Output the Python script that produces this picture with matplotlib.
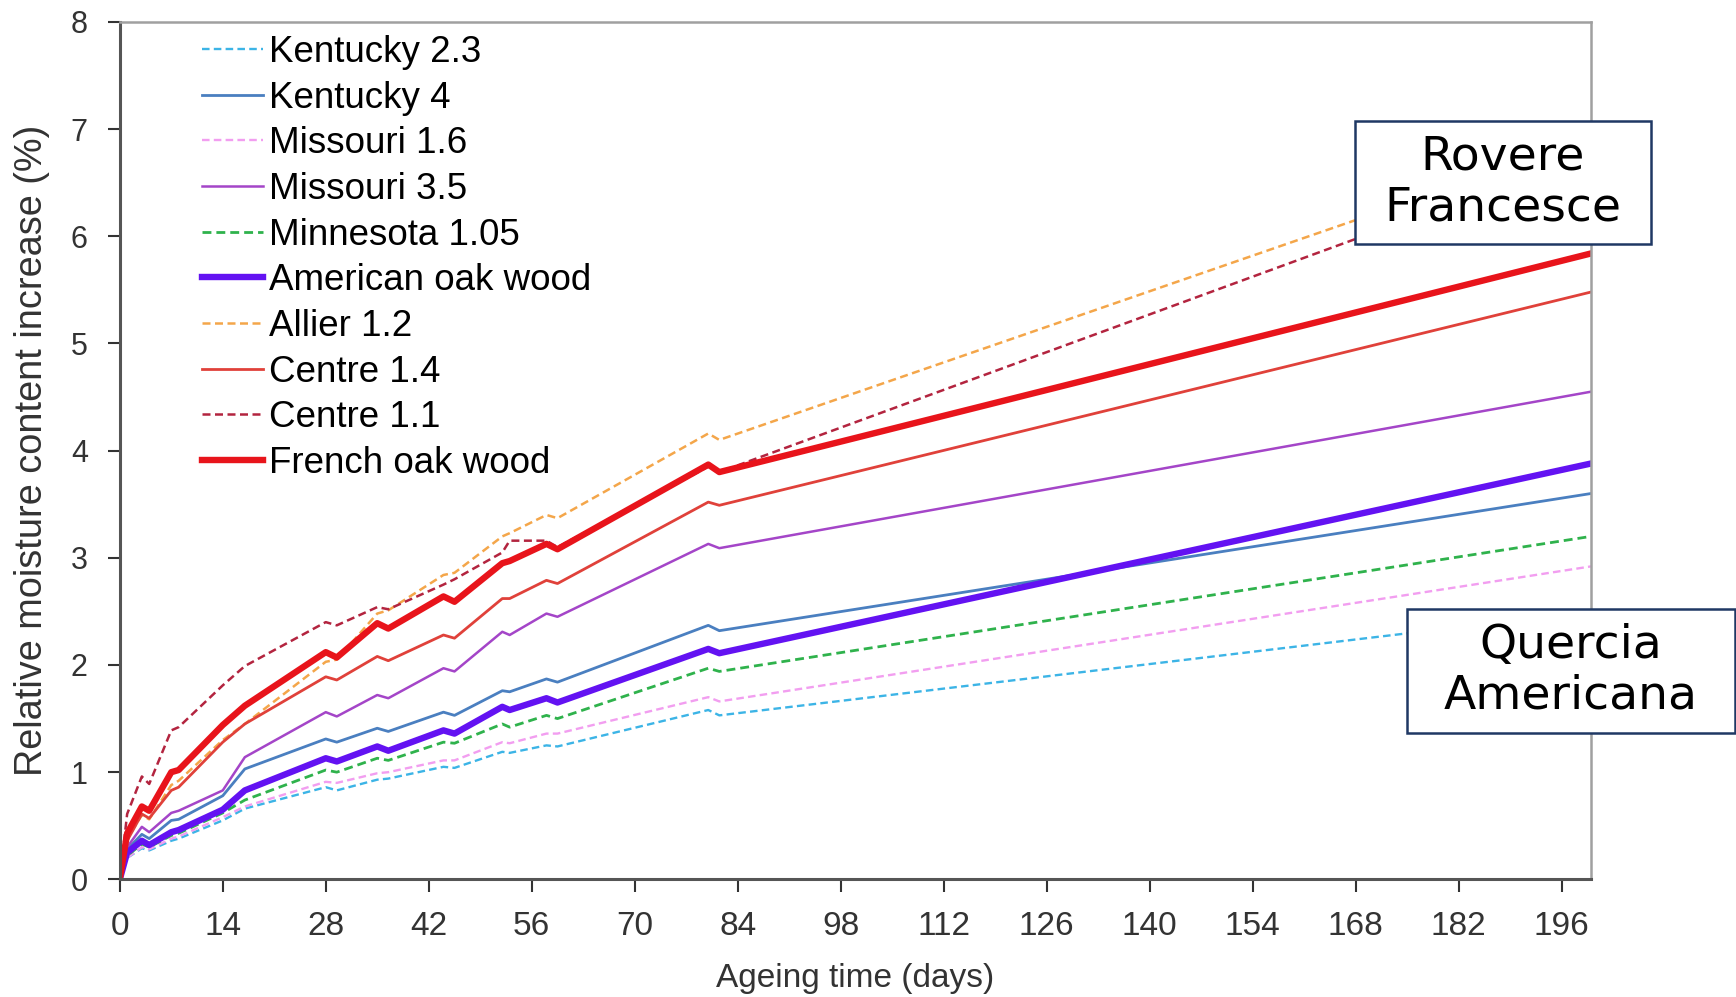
import matplotlib
matplotlib.use("Agg")
import matplotlib.pyplot as plt
from matplotlib.patches import Rectangle

plt.rcParams["font.family"] = ["Liberation Sans", "DejaVu Sans"]

# ageing time (days) at which the curves were sampled
days = [0, 1, 3, 4, 7, 8, 14, 17, 28, 29.5, 35, 36.5, 44, 45.5, 52, 53, 58, 59.5, 80, 81.5, 200]

kentucky_23 = [0, 0.20, 0.29, 0.27, 0.36, 0.38, 0.55, 0.66, 0.86, 0.83, 0.93, 0.94, 1.05, 1.04,
               1.19, 1.18, 1.25, 1.24, 1.58, 1.53, 2.50]
kentucky_4 = [0, 0.28, 0.42, 0.38, 0.55, 0.56, 0.78, 1.03, 1.31, 1.28, 1.41, 1.38, 1.56, 1.53,
              1.76, 1.75, 1.87, 1.84, 2.37, 2.32, 3.60]
missouri_16 = [0, 0.20, 0.30, 0.28, 0.38, 0.40, 0.58, 0.68, 0.91, 0.90, 0.99, 1.00, 1.11, 1.11,
               1.28, 1.27, 1.36, 1.36, 1.70, 1.66, 2.92]
missouri_35 = [0, 0.30, 0.49, 0.44, 0.62, 0.64, 0.83, 1.14, 1.56, 1.52, 1.72, 1.69, 1.97, 1.94,
               2.31, 2.28, 2.48, 2.45, 3.13, 3.09, 4.55]
minnesota_105 = [0, 0.22, 0.33, 0.30, 0.41, 0.43, 0.62, 0.74, 1.02, 1.00, 1.13, 1.11, 1.28, 1.27,
                 1.45, 1.42, 1.53, 1.50, 1.97, 1.94, 3.20]
american_oak = [0, 0.25, 0.36, 0.32, 0.44, 0.46, 0.65, 0.83, 1.13, 1.10, 1.24, 1.20, 1.39, 1.36,
                1.61, 1.58, 1.69, 1.65, 2.15, 2.11, 3.88]
allier_12 = [0, 0.38, 0.60, 0.56, 0.88, 0.92, 1.30, 1.45, 2.03, 2.05, 2.48, 2.51, 2.84, 2.86,
             3.20, 3.23, 3.40, 3.37, 4.16, 4.10, 6.91]
centre_14 = [0, 0.36, 0.61, 0.57, 0.83, 0.86, 1.28, 1.45, 1.89, 1.86, 2.08, 2.04, 2.28, 2.25,
             2.62, 2.62, 2.79, 2.76, 3.52, 3.49, 5.48]
centre_11 = [0, 0.61, 0.96, 0.89, 1.39, 1.42, 1.81, 1.99, 2.40, 2.37, 2.54, 2.52, 2.75, 2.80,
             3.05, 3.16, 3.16, 3.10, 3.85, 3.80, 6.78]
french_oak = [0, 0.43, 0.68, 0.64, 1.00, 1.02, 1.44, 1.62, 2.12, 2.07, 2.39, 2.34, 2.64, 2.59,
              2.95, 2.97, 3.13, 3.08, 3.87, 3.80, 5.84]

labels = ["Kentucky 2.3", "Kentucky 4", "Missouri 1.6", "Missouri 3.5", "Minnesota 1.05",
          "American oak wood", "Allier 1.2", "Centre 1.4", "Centre 1.1", "French oak wood"]
series = [kentucky_23, kentucky_4, missouri_16, missouri_35, minnesota_105,
          american_oak, allier_12, centre_14, centre_11, french_oak]
colors = ["#3cb4e6", "#4a7fc0", "#f29ef0", "#a445c8", "#2fb24c",
          "#6312f2", "#f4a64a", "#e0413a", "#b3243f", "#e8141b"]
styles = ["--", "-", "--", "-", "--", "-", "--", "-", "--", "-"]
widths = [1.7, 2.0, 1.7, 1.8, 2.0, 4.6, 1.8, 2.0, 1.8, 4.6]

fig = plt.figure(figsize=(17.36, 9.97), dpi=100)
ax = fig.add_axes([0.069, 0.118, 0.8475, 0.860])

for y, lab, c, ls, lw in zip(series, labels, colors, styles, widths):
    if ls == "--":
        ax.plot(days, y, ls, color=c, lw=lw, label=lab, dashes=(3.2, 1.8))
    else:
        ax.plot(days, y, ls, color=c, lw=lw, label=lab)

ax.set_xlim(0, 200)
ax.set_ylim(0, 8)
ax.set_xticks(range(0, 197, 14))
ax.set_yticks(range(0, 9))

ax.tick_params(axis="x", labelsize=24, length=9, width=1.5, pad=14, colors="#333333")
ax.tick_params(axis="y", labelsize=22, length=9, width=1.5, pad=14, colors="#333333")

ax.set_xlabel("Ageing time (days)", fontsize=24, color="#333333", labelpad=15)
ax.set_ylabel("Relative moisture content increase (%)", fontsize=27.3, color="#333333",
              labelpad=15)

for side in ["left", "bottom"]:
    ax.spines[side].set_color("#555555")
    ax.spines[side].set_linewidth(2.2)
for side in ["top", "right"]:
    ax.spines[side].set_color("#a0a0a0")
    ax.spines[side].set_linewidth(1.8)

ax.legend(loc="upper left", bbox_to_anchor=(0.046, 1.002), frameon=False,
          prop={"size": 26.5}, handlelength=1.66, handletextpad=0.15,
          labelspacing=0.29, borderaxespad=0)

# annotation boxes
def label_box(x0, y0, x1, y1, text):
    W, H = 1736.0, 997.0
    rect = Rectangle((x0 / W, 1 - y1 / H), (x1 - x0) / W, (y1 - y0) / H,
                     transform=fig.transFigure, facecolor="white",
                     edgecolor="#1f3864", lw=1.8, zorder=5)
    fig.patches.append(rect)
    fig.text((x0 + x1) / 2 / W, 1 - (y0 + y1) / 2 / H, text, ha="center", va="center",
             fontsize=34, family="DejaVu Sans", linespacing=1.15, zorder=6)

label_box(1355, 121, 1651, 244, "Rovere\nFrancesce")
label_box(1407, 609, 1735, 733, "Quercia\nAmericana")

fig.savefig("out.png", dpi=100)
